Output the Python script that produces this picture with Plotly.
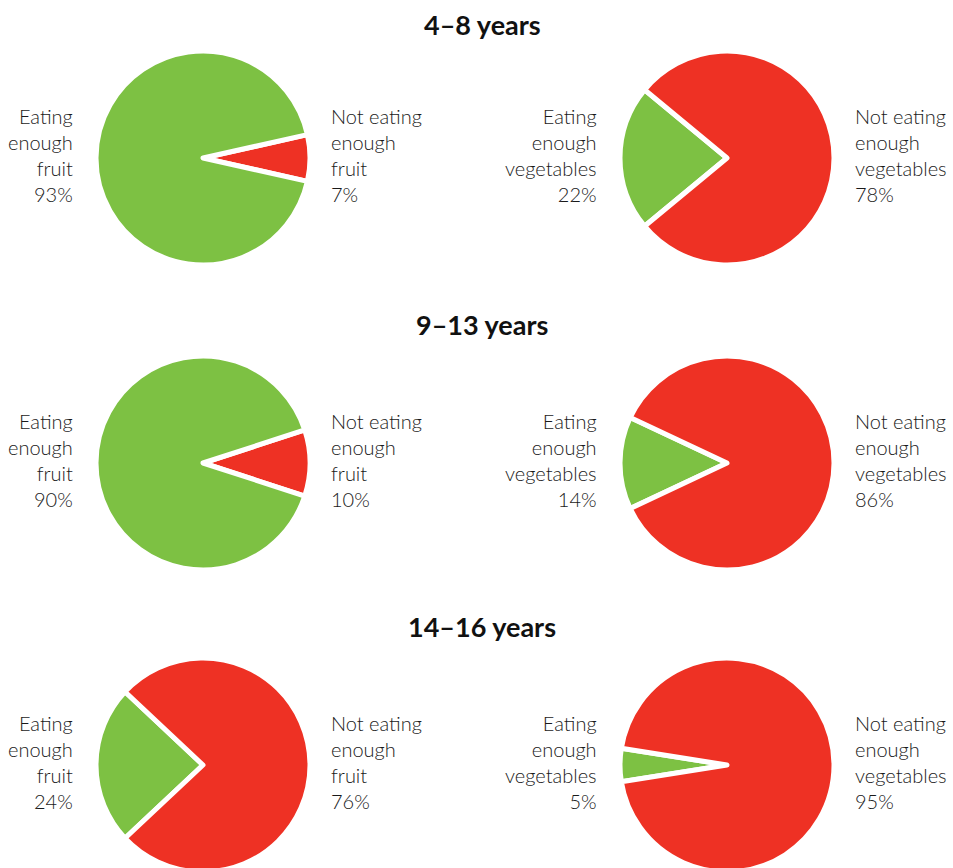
import plotly.graph_objects as go

# Figure drawn in page pixels (body margin removed); it is a little taller
# than the window so that the bottom pies are cut off like the reference.
W, H = 953, 876

age_groups = ["4–8 years", "9–13 years", "14–16 years"]
fruit_eating = [93, 90, 24]
fruit_not = [7, 10, 76]
veg_eating = [22, 14, 5]
veg_not = [78, 86, 95]

GREEN = "#7DC143"
RED = "#EE3124"
TEXT = "#1a1a1a"
FONT = "Lato"

# layout geometry (page pixels)
row_cy = [158, 463, 765]
title_y = [24, 325, 626]
col_cx = [203, 727]
R = 107


def px_x(x):
    return x / W


def px_y(y):
    return 1 - y / H


fig = go.Figure()
annotations = []

for i, grp in enumerate(age_groups):
    cy = row_cy[i]
    for j, (eat, noteat, kind) in enumerate([
        (fruit_eating[i], fruit_not[i], "fruit"),
        (veg_eating[i], veg_not[i], "vegetables"),
    ]):
        cx = col_cx[j]
        # smaller slice: green points left, red points right
        if eat < noteat:
            vals = [eat, noteat]
            cols = [GREEN, RED]
            centre = 270
            frac = eat / (eat + noteat)
        else:
            vals = [noteat, eat]
            cols = [RED, GREEN]
            centre = 90
            frac = noteat / (eat + noteat)
        rot = centre - frac * 180
        fig.add_trace(go.Pie(
            values=vals,
            labels=["a", "b"],
            sort=False,
            direction="clockwise",
            rotation=rot,
            marker=dict(colors=cols, line=dict(color="white", width=5)),
            textinfo="none",
            hoverinfo="skip",
            showlegend=False,
            domain=dict(x=[px_x(cx - R), px_x(cx + R)],
                        y=[max(0, px_y(cy + R)), min(1, px_y(cy - R))]),
        ))
        annotations.append(dict(
            x=px_x(cx - 128), y=px_y(cy - 3), xref="paper", yref="paper",
            xanchor="right", yanchor="middle", align="right", showarrow=False,
            text=f"Eating<br>enough<br>{kind}<br>{eat}%",
            font=dict(family=FONT, size=20, color=TEXT, weight=300),
        ))
        annotations.append(dict(
            x=px_x(cx + 126), y=px_y(cy - 3), xref="paper", yref="paper",
            xanchor="left", yanchor="middle", align="left", showarrow=False,
            text=f"Not eating<br>enough<br>{kind}<br>{noteat}%",
            font=dict(family=FONT, size=20, color=TEXT, weight=300),
        ))
    annotations.append(dict(
        x=px_x(482), y=px_y(title_y[i]), xref="paper", yref="paper",
        xanchor="center", yanchor="middle", showarrow=False,
        text=f"<b>{grp}</b>",
        font=dict(family=FONT, size=27, color="#111111"),
    ))

fig.update_layout(
    width=W, height=H,
    margin=dict(l=0, r=0, t=0, b=0),
    paper_bgcolor="white", plot_bgcolor="white",
    annotations=annotations,
)

fig.write_html(
    "out.html",
    config={"displayModeBar": False},
    post_script="document.body.style.margin='0';"
                "document.documentElement.style.overflow='hidden';"
                "document.body.style.overflow='hidden';",
)
